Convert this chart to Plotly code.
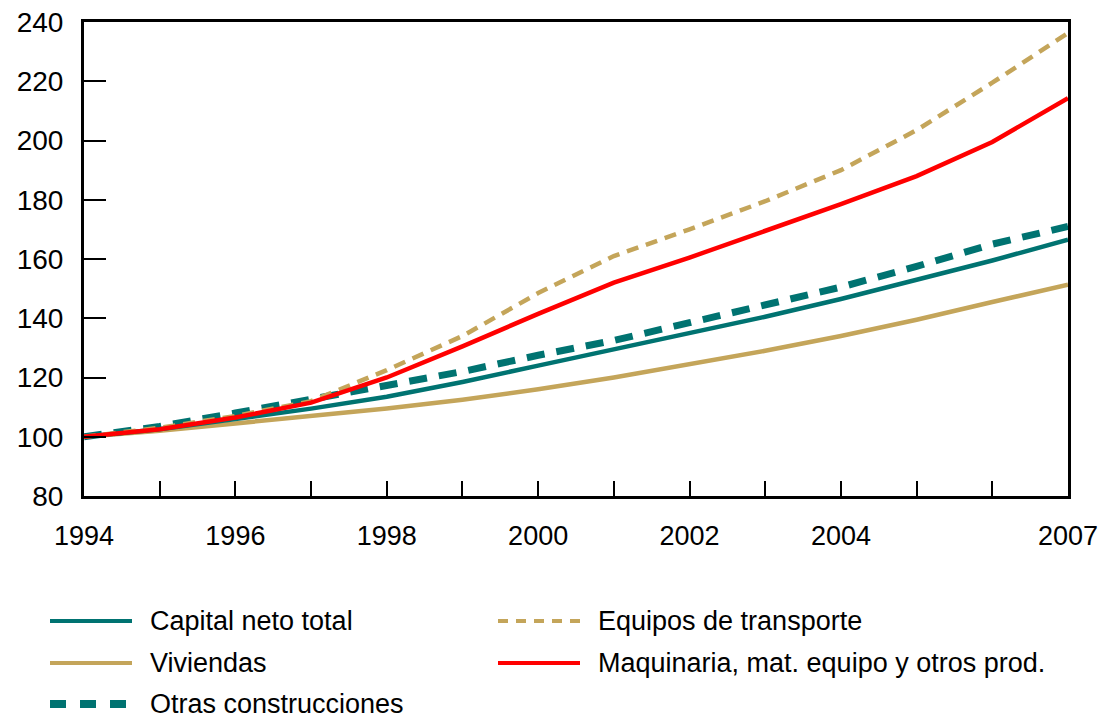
import plotly.graph_objects as go

# datos (índice 1994 = 100)
years = list(range(1994, 2008))
capital_neto = [100, 102.5, 106, 109.5, 113.5, 118.5, 124, 129.5, 135, 140.5, 146.5, 153, 159.5, 166.5]
viviendas = [100, 102, 104.5, 107, 109.5, 112.5, 116, 120, 124.5, 129, 134, 139.5, 145.5, 151.3]
otras_construcciones = [100, 103.5, 108, 112.5, 117.5, 122, 127.5, 132.5, 138.5, 144.5, 150.5, 157.5, 165, 171]
equipos_transporte = [100, 103, 107, 112, 122.5, 134, 148.5, 161, 170, 179.5, 190, 203.5, 219.5, 236.3]
maquinaria = [100, 102.5, 106.5, 111.5, 120, 130.5, 141.5, 152, 160.5, 169.5, 178.5, 188, 199.5, 214.3]

year_labels = ["1994", "", "1996", "", "1998", "", "2000", "", "2002", "", "2004", "", "", "2007"]
y_ticks = [80, 100, 120, 140, 160, 180, 200, 220, 240]

TEAL = "#007371"
TAN = "#C4A55A"
RED = "#FF0000"
FONT = "Liberation Sans Narrow, Arial Narrow, Liberation Sans, sans-serif"

W, H = 1099, 720
L, R, T, B = 84, 1068, 22, 496  # bordes del área de trazado


def px_x(x):
    return (x - L) / (R - L)


def px_y(y):
    return (B - y) / (B - T)


series = [
    ("Viviendas", viviendas, TAN, 4.5, "solid"),
    ("Capital neto total", capital_neto, TEAL, 4.5, "solid"),
    ("Otras construcciones", otras_construcciones, TEAL, 7, "18px,12px"),
    ("Equipos de transporte", equipos_transporte, TAN, 4.5, "12px,8px"),
    ("Maquinaria, mat. equipo y otros prod.", maquinaria, RED, 4.5, "solid"),
]

fig = go.Figure()
for name, vals, color, width, dash in series:
    fig.add_trace(go.Scatter(
        x=years, y=vals, mode="lines", name=name,
        line=dict(color=color, width=width, dash=dash),
        showlegend=False
    ))

# leyenda manual (dos columnas)
legend_items = [
    ("Capital neto total", TEAL, 4, "solid", 50, 621),
    ("Viviendas", TAN, 4, "solid", 50, 663),
    ("Otras construcciones", TEAL, 8, "16px,14px", 50, 704),
    ("Equipos de transporte", TAN, 4, "10px,8px", 498, 621),
    ("Maquinaria, mat. equipo y otros prod.", RED, 4, "solid", 498, 663),
]
for text, color, width, dash, x0, y0 in legend_items:
    fig.add_shape(type="line", xref="paper", yref="paper",
                  x0=px_x(x0), x1=px_x(x0 + 82), y0=px_y(y0), y1=px_y(y0),
                  line=dict(color=color, width=width, dash=dash))
    fig.add_annotation(xref="paper", yref="paper", x=px_x(x0 + 98), y=px_y(y0),
                       text=text, showarrow=False, xanchor="left", yanchor="middle",
                       font=dict(size=27, color="black", family=FONT))

fig.update_layout(
    width=W, height=H,
    margin=dict(l=L, r=W - R, t=T, b=H - B),
    plot_bgcolor="white", paper_bgcolor="white",
    font=dict(family=FONT, size=28, color="black"),
    xaxis=dict(
        range=[1994, 2007], tickvals=years, ticktext=year_labels,
        ticks="inside", ticklen=15, tickwidth=2, tickcolor="black",
        showline=True, linecolor="black", linewidth=3, mirror=True,
        showgrid=False, zeroline=False, ticklabelstandoff=14,
        automargin=False, ticklabeloverflow="allow",
        tickfont=dict(size=27),
    ),
    yaxis=dict(
        range=[80, 240], tickvals=y_ticks,
        ticks="inside", ticklen=22, tickwidth=1.5, tickcolor="black",
        showline=True, linecolor="black", linewidth=3, mirror=True,
        showgrid=False, zeroline=False, ticklabelstandoff=12,
        automargin=False, ticklabeloverflow="allow",
    ),
)

# sin margen en la página para que la figura ocupe toda la ventana
fig.write_html("out.html", config={"displayModeBar": False},
               post_script="document.body.style.margin='0';document.body.style.overflow='hidden';")
